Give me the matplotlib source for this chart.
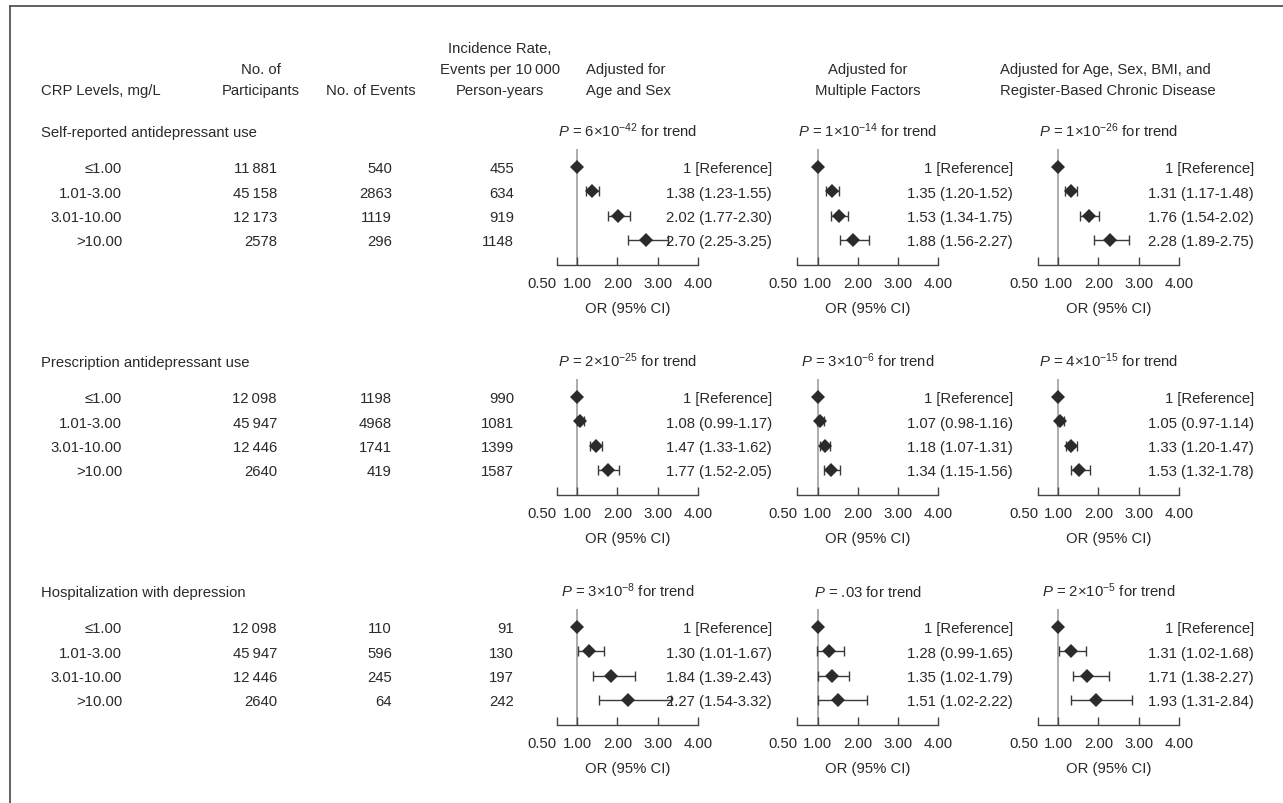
import matplotlib
matplotlib.use("Agg")
import matplotlib.pyplot as plt
import numpy as np

plt.rcParams['font.family'] = ['Liberation Sans', 'DejaVu Sans']
plt.rcParams['mathtext.fontset'] = 'custom'
plt.rcParams['mathtext.rm'] = 'Liberation Sans'
plt.rcParams['mathtext.it'] = 'Liberation Sans:italic'
plt.rcParams['mathtext.bf'] = 'Liberation Sans:bold'

# ---------------- data ----------------
crp_levels = ["\u22641.00", "1.01-3.00", "3.01-10.00", ">10.00"]
sections = ["Self-reported antidepressant use",
            "Prescription antidepressant use",
            "Hospitalization with depression"]
panel_titles = [["Adjusted for", "Age and Sex"],
                ["Adjusted for", "Multiple Factors"],
                ["Adjusted for Age, Sex, BMI, and", "Register-Based Chronic Disease"]]

participants = [[11881, 45158, 12173, 2578],
                [12098, 45947, 12446, 2640],
                [12098, 45947, 12446, 2640]]
events = [[540, 2863, 1119, 296],
          [1198, 4968, 1741, 419],
          [110, 596, 245, 64]]
incidence = [[455, 634, 919, 1148],
             [990, 1081, 1399, 1587],
             [91, 130, 197, 242]]

# odds ratios for CRP categories 2-4 (category 1 is reference = 1)
or_est = [[[1.38, 2.02, 2.70], [1.35, 1.53, 1.88], [1.31, 1.76, 2.28]],
          [[1.08, 1.47, 1.77], [1.07, 1.18, 1.34], [1.05, 1.33, 1.53]],
          [[1.30, 1.84, 2.27], [1.28, 1.35, 1.51], [1.31, 1.71, 1.93]]]
or_lo = [[[1.23, 1.77, 2.25], [1.20, 1.34, 1.56], [1.17, 1.54, 1.89]],
         [[0.99, 1.33, 1.52], [0.98, 1.07, 1.15], [0.97, 1.20, 1.32]],
         [[1.01, 1.39, 1.54], [0.99, 1.02, 1.02], [1.02, 1.38, 1.31]]]
or_hi = [[[1.55, 2.30, 3.25], [1.52, 1.75, 2.27], [1.48, 2.02, 2.75]],
         [[1.17, 1.62, 2.05], [1.16, 1.31, 1.56], [1.14, 1.47, 1.78]],
         [[1.67, 2.43, 3.32], [1.65, 1.79, 2.22], [1.68, 2.27, 2.84]]]
p_trend = [["6e-42", "1e-14", "1e-26"],
           ["2e-25", "3e-6", "4e-15"],
           ["3e-8", ".03", "2e-5"]]
x_ticks = [0.5, 1.0, 2.0, 3.0, 4.0]

# ---------------- layout ----------------
W, H = 1283, 804
FS = 10.7
TXT = '#2a2a2a'
BASE = 5.4  # center -> baseline offset in px


def fx(x):
    return x / W


def fy(y):
    return 1 - y / H


fig = plt.figure(figsize=(W / 100, H / 100), dpi=100)


def t(x, y, s, ha='left', **kw):
    fig.text(fx(x), fy(y + BASE), s, ha=ha, va='baseline', fontsize=FS,
             color=TXT, **kw)


# frame (left + top border)
fa = fig.add_axes([fx(9.5), 0, 1 - fx(9.5), fy(7)])
fa.set_xticks([]); fa.set_yticks([])
fa.patch.set_visible(False)
for sp in ['right', 'bottom']:
    fa.spines[sp].set_visible(False)
for sp in ['left', 'top']:
    fa.spines[sp].set_color('#555555')
    fa.spines[sp].set_linewidth(1.3)


def fmt_n(n):
    return f"{n:,}".replace(',', '\u2009') if n >= 10000 else str(n)


# column headers
t(41, 90, "CRP Levels, mg/L")
t(261, 69, "No. of", ha='center')
t(261, 90, "Participants", ha='center')
t(371, 90, "No. of Events", ha='center')
t(500, 48, "Incidence Rate,", ha='center')
t(500, 69, "Events per 10\u2009000", ha='center')
t(500, 90, "Person-years", ha='center')
t(586, 69, panel_titles[0][0], ha='left')
t(586, 90, panel_titles[0][1], ha='left')
t(868, 69, panel_titles[1][0], ha='center')
t(868, 90, panel_titles[1][1], ha='center')
t(1000, 69, panel_titles[2][0], ha='left')
t(1000, 90, panel_titles[2][1], ha='left')

ROW0, ROWSTEP, SECSTEP = 168, 24.3, 230
PSTEP = 240.5


def p_label(s):
    if 'e' in s:
        m, e = s.split('e')
        return f"$P$ = {m}\u00d710$^{{{e}}}$ for trend"
    return f"$P$ = {s} for trend"


rows = np.arange(4)
for s in range(3):
    yoff = SECSTEP * s
    t(41, 132 + yoff, sections[s])
    for i in range(4):
        yc = ROW0 + ROWSTEP * i + yoff
        t(122, yc, crp_levels[i], ha='right')
        t(277, yc, fmt_n(participants[s][i]), ha='right')
        t(392, yc, fmt_n(events[s][i]), ha='right')
        t(514, yc, fmt_n(incidence[s][i]), ha='right')

    for p in range(3):
        left = 557 + PSTEP * p
        right = 698 + PSTEP * p
        top = 150 + yoff
        bot = 266 + yoff
        ax = fig.add_axes([fx(left), fy(bot), (right - left) / W, (bot - top) / H])
        ax.set_xlim(0.5, 4.0)
        ax.set_ylim(3 + (bot - (ROW0 + 3 * ROWSTEP + yoff)) / ROWSTEP,
                    -(ROW0 + yoff - top) / ROWSTEP)
        ax.patch.set_visible(False)
        ax.axvline(1.0, color='#a6a6a6', lw=1.3, zorder=0)
        est = np.array(or_est[s][p])
        lo = np.array(or_lo[s][p])
        hi = np.array(or_hi[s][p])
        ax.errorbar(est, rows[1:], xerr=[est - lo, hi - est], fmt='none',
                    ecolor='#3a3a3a', elinewidth=1.0, capsize=3.4, capthick=1.0,
                    zorder=2, clip_on=False)
        ax.plot(np.concatenate([[1.0], est]), rows, 'D', ms=7.6, color='#2b2b2b',
                mew=0, zorder=3, clip_on=False)
        for sp in ['top', 'left', 'right']:
            ax.spines[sp].set_visible(False)
        ax.spines['bottom'].set_color('#444444')
        ax.spines['bottom'].set_linewidth(1.0)
        ax.set_yticks([])
        ax.set_xticks(x_ticks)
        labs = ax.set_xticklabels([f"{v:.2f}" for v in x_ticks])
        labs[0].set_horizontalalignment('right')
        ax.tick_params(axis='x', direction='in', length=5.5, width=1.0,
                       color='#444444', pad=8, labelsize=FS, labelcolor=TXT)
        cx = (left + right) / 2
        t(cx, 132 + yoff, p_label(p_trend[s][p]), ha='center')
        t(cx, 308 + yoff, "OR (95% CI)", ha='center')
        xr = 772 + 241 * p
        t(xr, ROW0 + yoff, "1 [Reference]", ha='right')
        for i in range(3):
            t(xr, ROW0 + ROWSTEP * (i + 1) + yoff,
              f"{est[i]:.2f} ({lo[i]:.2f}-{hi[i]:.2f})", ha='right')

fig.savefig("out.png", dpi=100)
